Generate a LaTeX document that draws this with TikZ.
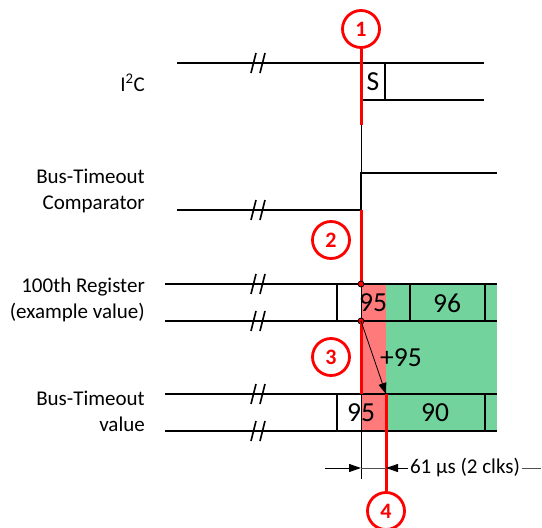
\documentclass[tikz,border=0pt]{standalone}
\usepackage{fontspec}
\setmainfont{Carlito}
\usetikzlibrary{arrows.meta}
\definecolor{hotred}{HTML}{FF0000}
\definecolor{pinkfill}{HTML}{FF7B7B}
\definecolor{greenfill}{HTML}{72D39D}
\definecolor{dimgray}{HTML}{505050}
\tikzset{
  sig/.style={line width=2pt, black},
  brk/.style={line width=1.6pt, black},
  thinv/.style={line width=0.8pt, black},
  redmark/.style={line width=3pt, hotred},
  numcirc/.style={circle, draw=hotred, line width=2.8pt, minimum size=37pt, inner sep=0pt,
    text=hotred, font=\fontsize{22}{26}\selectfont\bfseries},
  lbl/.style={anchor=east, align=right, font=\fontsize{21}{26}\selectfont, inner sep=0pt},
  val/.style={font=\fontsize{27.5}{32}\selectfont, inner sep=0pt},
  dot/.style={circle, fill=hotred, draw=black, line width=0.8pt, minimum size=6pt, inner sep=0pt},
  dimline/.style={line width=1pt, dimgray},
}
% two slanted strokes marking a break in a line
\newcommand{\breakmark}[1]{%
  \draw[brk] (251,#1+10) -- (256,#1-10);
  \draw[brk] (260,#1+10) -- (265,#1-10);}
\begin{document}
\begin{tikzpicture}[x=1pt, y=-1pt]
\useasboundingbox (0,0) rectangle (542,528);

% colour fills of the counter and timeout rows
\fill[pinkfill] (361,284) rectangle (386,431);
\fill[greenfill] (386,284) rectangle (497,431);

% common time reference
\draw[thinv] (361,125) -- (361,479);

% labels
\node[lbl] (lI) at (145,83) {I\textsuperscript{2}C};
\node[lbl] (lC) at (145,191) {Bus-Timeout\\Comparator};
\node[lbl] (lR) at (145,300) {100th Register\\(example value)};
\node[lbl] (lV) at (145,411) {Bus-Timeout\\value};

% I2C bus
\draw[sig] (177,63) -- (484,63);
\draw[sig] (361,100) -- (484,100);
\draw[sig] (385,63) -- (385,100);
\breakmark{63}
\node[val] (s) at (373,82) {S};

% comparator output
\draw[sig] (177,210) -- (361,210) -- (361,173) -- (497,173);
\breakmark{210}

% 100th register
\draw[sig] (165,284) -- (497,284);
\draw[sig] (165,321) -- (497,321);
\draw[sig] (337,284) -- (337,321);
\draw[sig] (410,284) -- (410,321);
\draw[sig] (485,284) -- (485,321);
\breakmark{284}
\breakmark{321}
\node[val] (r95) at (373,303) {95};
\node[val] (r96) at (447,303) {96};

% bus-timeout value
\draw[sig] (165,394) -- (497,394);
\draw[sig] (165,431) -- (497,431);
\draw[sig] (337,394) -- (337,431);
\draw[sig] (485,394) -- (485,431);
\breakmark{394}
\breakmark{431}
\node[val] (v95) at (361,413) {95};
\node[val] (v90) at (435,413) {90};

% event markers
\node[numcirc] (n1) at (361,29) {1};
\node[numcirc] (n2) at (331,240) {2};
\node[numcirc] (n3) at (331,357) {3};
\node[numcirc] (n4) at (386,511) {4};

\coordinate (e1) at (361,125);
\coordinate (c2a) at (361,210);
\coordinate (v3a) at (361,394);
\coordinate (v4a) at (386,394);

\draw[redmark] (n1.south) -- (e1);
\draw[redmark] (c2a) -- (361,284);
\node[dot] (d1) at (361,284) {};
\node[dot] (d2) at (361,321) {};
\draw[redmark] (d2.center) -- (v3a);
\draw[redmark] (v4a) -- (n4.north);

% addition arrow
\draw[line width=0.8pt, -{Triangle[length=11pt, width=8pt]}] (d2.center) -- (v4a);
\node[val] (add) at (401,358) {+95};

% delay dimension
\node[font=\fontsize{21}{25}\selectfont, inner sep=0pt] (dim) at (465,468) {61 µs (2 clks)};
\coordinate (dl) at (325,468);
\coordinate (dr) at (541,468);
\draw[dimline, -{Triangle[length=12pt, width=8pt]}, black] (dl) -- (361,468);
\draw[dimline] (361,468) -- (386,468);
\draw[dimline, -{Triangle[length=12pt, width=8pt]}, black] ([xshift=-2pt]dim.west) -- (386,468);
\draw[dimline] ([xshift=2pt]dim.east) -- (dr);
\end{tikzpicture}
\end{document}
